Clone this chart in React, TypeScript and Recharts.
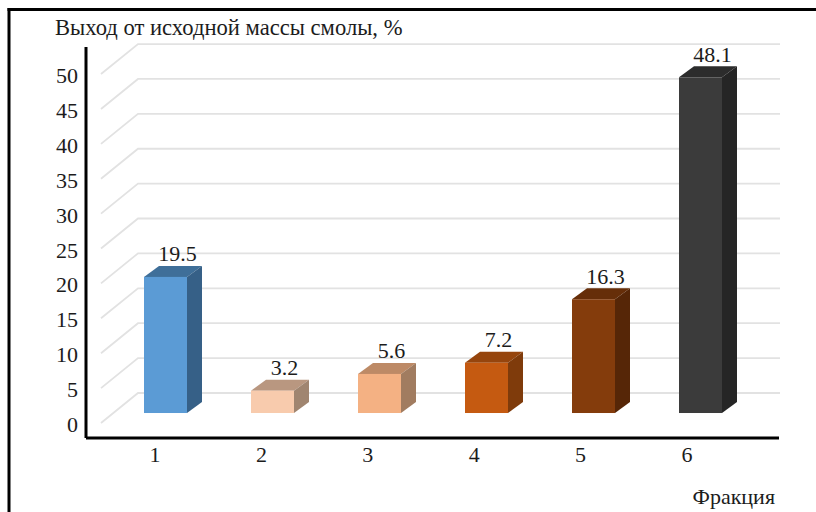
import React from "react";
import { ComposedChart, Bar, XAxis, YAxis, CartesianGrid, LabelList } from "recharts";

const categories = ["1", "2", "3", "4", "5", "6"];
const yields = [19.5, 3.2, 5.6, 7.2, 16.3, 48.1];
const yTicks = [0, 5, 10, 15, 20, 25, 30, 35, 40, 45, 50];
const frontColors = ["#5B9BD5", "#F8CBAD", "#F4B183", "#C55A11", "#843C0C", "#3B3B3B"];
const topColors = ["#3F6F99", "#B99780", "#BD8A66", "#96450D", "#662E09", "#2C2C2C"];
const sideColors = ["#366087", "#A08570", "#A17C60", "#7F3B0B", "#562607", "#252525"];

const rows = categories.map((name, i) => ({ name, value: yields[i], idx: i }));

const DX = 15;
const DY = 11;
const FONT = '"Liberation Serif", "Times New Roman", serif';
const INK = "#1c1c1c";
const SIZE = 22;

function Cuboid(props: any) {
  const { x, y, width, height, payload } = props;
  const i = payload.idx;
  const r = x + width;
  const b = y + height;
  return (
    <g>
      <path d={`M${x},${y} L${x + DX},${y - DY} L${r + DX},${y - DY} L${r},${y} Z`} fill={topColors[i]} />
      <path d={`M${r},${y} L${r + DX},${y - DY} L${r + DX},${b - DY} L${r},${b} Z`} fill={sideColors[i]} />
      <rect x={x} y={y} width={width} height={height} fill={frontColors[i]} />
    </g>
  );
}

function GridLine(props: any) {
  const y = props.y1;
  return (
    <polyline
      points={`101,${y + 10} 138,${y - 20} 780,${y - 20}`}
      fill="none"
      stroke="#e2e2e2"
      strokeWidth={1.8}
    />
  );
}

function YTick(props: any) {
  const { x, y, payload } = props;
  return (
    <text x={x} y={y + 11.5} textAnchor="end" dominantBaseline="central" fontFamily={FONT} fontSize={SIZE} fill={INK}>
      {payload.value}
    </text>
  );
}

function XTick(props: any) {
  const { x, y, payload, index } = props;
  return (
    <text x={x - 10.5 - 0.6 * index} y={y + 8} textAnchor="middle" dominantBaseline="central" fontFamily={FONT} fontSize={SIZE} fill={INK}>
      {payload.value}
    </text>
  );
}

function ValueLabel(props: any) {
  const { x, y, width, value } = props;
  return (
    <text x={x + width / 2 + 12} y={y - 23} textAnchor="middle" dominantBaseline="central" fontFamily={FONT} fontSize={SIZE} fill={INK}>
      {value.toFixed(1)}
    </text>
  );
}

export default function App() {
  return (
    <div style={{ position: "fixed", left: 0, top: 0, width: 816, height: 512, overflow: "hidden", background: "#fff" }}>
      <ComposedChart
        width={816}
        height={512}
        data={rows}
        margin={{ top: 47, right: 37, bottom: 0, left: 0 }}
      >
        <line x1={7.5} y1={9.5} x2={816} y2={9.5} stroke="#000" strokeWidth={3} />
        <line x1={9} y1={8} x2={9} y2={512} stroke="#000" strokeWidth={3} />
        <CartesianGrid
          vertical={false}
          horizontal={GridLine as any}
          horizontalValues={yTicks}
          syncWithTicks
        />
        <XAxis
          dataKey="name"
          padding={{ left: 26, right: 25 }}
          tickLine={false}
          axisLine={{ stroke: "#000", strokeWidth: 3 }}
          tick={XTick as any}
          height={74}
        />
        <YAxis
          type="number"
          domain={[-3.58, 52.44]}
          ticks={yTicks}
          allowDataOverflow
          width={86}
          tickLine={false}
          axisLine={{ stroke: "#000", strokeWidth: 3 }}
          tick={YTick as any}
        />
        <Bar dataKey="value" barSize={43} isAnimationActive={false} shape={Cuboid as any}>
          <LabelList dataKey="value" content={ValueLabel as any} />
        </Bar>
        <text x={55} y={27} dominantBaseline="central" fontFamily={FONT} fontSize={22.6} fill={INK}>
          Выход от исходной массы смолы, %
        </text>
        <text x={775} y={496} textAnchor="end" dominantBaseline="central" fontFamily={FONT} fontSize={SIZE} fill={INK}>
          Фракция
        </text>
      </ComposedChart>
    </div>
  );
}
